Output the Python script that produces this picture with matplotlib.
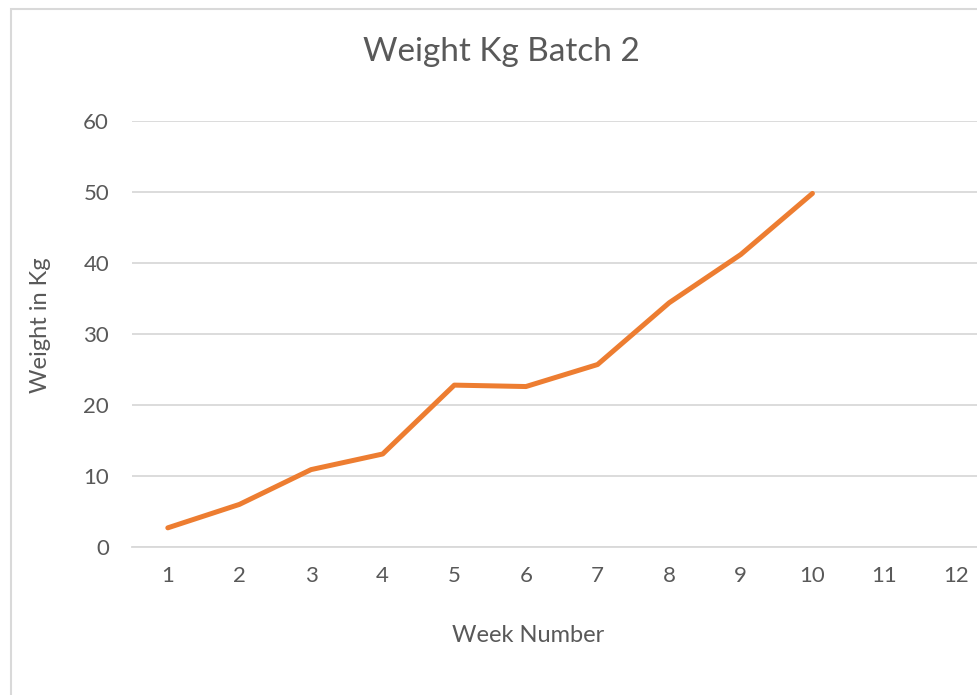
import matplotlib.pyplot as plt
from matplotlib.patches import Rectangle

# Weekly weights, batch 2 (weeks 11 and 12 have no data yet)
weeks = [1, 2, 3, 4, 5, 6, 7, 8, 9, 10, 11, 12]
weight = [2.7, 6.0, 10.9, 13.1, 22.8, 22.6, 25.7, 34.4, 41.2, 49.8]

text_color = '#595959'
grid_color = '#d9d9d9'
line_color = '#ed7d31'

plt.rcParams['font.family'] = ['Lato', 'DejaVu Sans']

fig = plt.figure(figsize=(9.78, 6.95), dpi=100)

# chart frame, like the Excel chart area (cut off on the right)
fig.patches.append(Rectangle((11.5 / 978, -0.05), 1.2, 1 - 8.5 / 695 + 0.05,
                             transform=fig.transFigure, fill=False,
                             edgecolor=grid_color, linewidth=1.5))

ax = fig.add_axes([132 / 978, (695 - 547) / 695, 859.5 / 978, 426 / 695])

ax.plot(weeks[:len(weight)], weight, color=line_color, linewidth=3.6,
        solid_capstyle='round', solid_joinstyle='round', zorder=3)

ax.set_xlim(0.5, 12.5)
ax.set_ylim(0, 60)
ax.set_xticks(weeks)
ax.set_xticklabels([str(w) for w in weeks])
ax.set_yticks(range(0, 61, 10))

ax.grid(axis='y', color=grid_color, linewidth=1.3)
ax.set_axisbelow(True)
for side in ['top', 'right', 'left']:
    ax.spines[side].set_visible(False)
ax.spines['bottom'].set_color(grid_color)
ax.spines['bottom'].set_linewidth(1.3)
ax.tick_params(length=0, labelsize=16, labelcolor=text_color)
ax.tick_params(axis='x', pad=14)
ax.tick_params(axis='y', pad=16.5)

fig.text(501 / 978, 1 - 52 / 695, 'Weight Kg Batch 2', ha='center', va='center',
         fontsize=24, color=text_color)
fig.text(41 / 978, 1 - 325 / 695, 'Weight in Kg', ha='center', va='center',
         rotation=90, fontsize=17, color=text_color)
fig.text(528 / 978, 1 - 635 / 695, 'Week Number', ha='center', va='center',
         fontsize=17, color=text_color)

plt.savefig('out.png', dpi=100)
plt.close()
